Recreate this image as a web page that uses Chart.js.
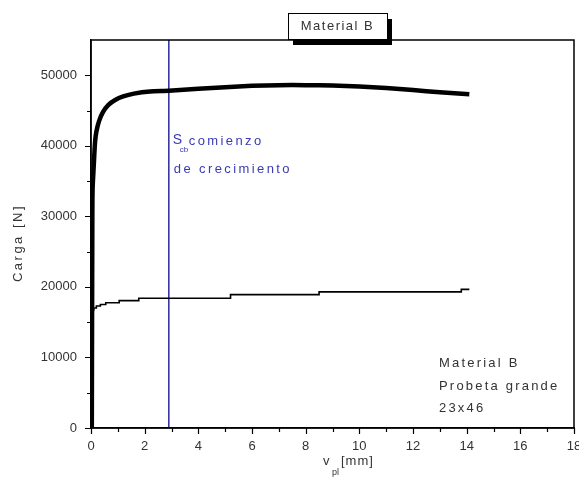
<!DOCTYPE html>
<html>
<head>
<meta charset="utf-8">
<script src="https://cdn.jsdelivr.net/npm/chart.js@4/dist/chart.umd.min.js"></script>
<style>
  html, body { margin: 0; padding: 0; background: #fff; }
  #wrap { position: relative; width: 579px; height: 488px; }
</style>
</head>
<body>
<div id="wrap"><canvas id="chart"></canvas></div>
<script>
// ── Data ─────────────────────────────────────────────
// upper curve: load vs plastic displacement (thick)
const upperX = [0.03, 0.05, 0.06, 0.1, 0.15, 0.2, 0.3, 0.45, 0.65, 0.9, 1.2, 1.6, 2.2, 2.9,
  4, 5, 6, 7, 8, 9, 10, 11, 12, 13, 14.1];
const upperY = [0, 30000, 34000, 37000, 40500, 42000, 43500, 44800, 45800, 46500, 47000, 47400, 47700, 47800,
  48100, 48300, 48500, 48600, 48600, 48550, 48400, 48200, 47900, 47600, 47300];

// lower curve (thin, stepped)
const lowerX = [0.03, 0.05, 0.1, 0.2, 0.35, 0.55, 1.05, 1.78, 5.2, 8.5, 13.8, 14.1];
const lowerY = [0, 16700, 17000, 17300, 17500, 17750, 18050, 18400, 18900, 19300, 19650, 19650];

// onset of crack growth
const growthX = 2.9;

const xTicks = [0, 2, 4, 6, 8, 10, 12, 14, 16, 18];
const yTicks = [0, 10000, 20000, 30000, 40000, 50000];

const FONT = "'Liberation Sans', Arial, sans-serif";
const TXT = '#333';
const BLUE = '#3a3ab4';

const toPoints = (xs, ys) => xs.map((x, i) => ({ x, y: ys[i] }));

// ── Frame, minor ticks, labels and boxes ─────────────
const decorations = {
  id: 'decorations',
  afterDraw(chart) {
    const { ctx, chartArea: a, scales: { x, y } } = chart;
    ctx.save();

    // frame (top + right sides)
    ctx.strokeStyle = '#000';
    ctx.lineWidth = 1.5;
    ctx.strokeRect(a.left, a.top, a.right - a.left, a.bottom - a.top);

    // tick marks, major every label, minor in between
    ctx.lineWidth = 1.2;
    ctx.beginPath();
    for (let v = 0; v <= 18; v++) {
      const px = Math.round(x.getPixelForValue(v)) + 0.5;
      const len = v % 2 === 0 ? 6 : 4;
      ctx.moveTo(px, a.bottom);
      ctx.lineTo(px, a.bottom + len);
    }
    for (let v = 0; v <= 50000; v += 5000) {
      const py = Math.round(y.getPixelForValue(v)) + 0.5;
      const len = v % 10000 === 0 ? 6 : 4;
      ctx.moveTo(a.left, py);
      ctx.lineTo(a.left - len, py);
    }
    ctx.stroke();

    // title box with drop shadow
    const bx = 288, by = 13, bw = 99, bh = 26;
    ctx.fillStyle = '#000';
    ctx.fillRect(bx + 5, by + 6, bw, bh);
    ctx.fillStyle = '#fff';
    ctx.fillRect(bx, by, bw, bh);
    ctx.lineWidth = 1;
    ctx.strokeRect(bx + 0.5, by + 0.5, bw, bh);
    ctx.fillStyle = TXT;
    ctx.font = `13px ${FONT}`;
    ctx.letterSpacing = '1.5px';
    ctx.textAlign = 'center';
    ctx.textBaseline = 'middle';
    ctx.fillText('Material B', bx + bw / 2, by + bh / 2);

    // axis titles
    ctx.textAlign = 'left';
    ctx.letterSpacing = '2.5px';
    ctx.save();
    ctx.translate(18, 243);
    ctx.rotate(-Math.PI / 2);
    ctx.textAlign = 'center';
    ctx.fillText('Carga [N]', 0, 0);
    ctx.restore();

    ctx.letterSpacing = '1px';
    ctx.fillText('v', 323, 461);
    ctx.font = `9px ${FONT}`;
    ctx.letterSpacing = '0px';
    ctx.fillText('pl', 332, 473);
    ctx.font = `13px ${FONT}`;
    ctx.letterSpacing = '1px';
    ctx.fillText('[mm]', 341, 461);

    // crack growth annotation
    const gx = x.getPixelForValue(growthX);
    ctx.fillStyle = BLUE;
    ctx.letterSpacing = '0px';
    ctx.font = `14px ${FONT}`;
    ctx.fillText('S', gx + 4, 140);
    ctx.font = `8px ${FONT}`;
    ctx.fillText('cb', gx + 11, 150);
    ctx.font = `13px ${FONT}`;
    ctx.letterSpacing = '2.4px';
    ctx.fillText('comienzo', gx + 20, 141);
    ctx.fillText('de crecimiento', gx + 5, 169);

    // specimen note
    ctx.fillStyle = TXT;
    ctx.letterSpacing = '2.2px';
    ctx.fillText('Material B', 439, 363);
    ctx.fillText('Probeta grande', 439, 386);
    ctx.fillText('23x46', 439, 408);

    ctx.restore();
  },
};

new Chart(document.getElementById('chart'), {
  type: 'line',
  data: {
    datasets: [
      {
        label: 'Material B',
        data: toPoints(upperX, upperY),
        borderColor: '#000',
        borderWidth: 4.5,
        pointRadius: 0,
        tension: 0.2,
        fill: false,
      },
      {
        label: 'Probeta grande',
        data: toPoints(lowerX, lowerY),
        borderColor: '#000',
        borderWidth: 1.6,
        pointRadius: 0,
        stepped: 'before',
        fill: false,
      },
      {
        label: 'Scb',
        data: [{ x: growthX, y: 0 }, { x: growthX, y: 55000 }],
        borderColor: '#2a2a9c',
        borderWidth: 1.5,
        pointRadius: 0,
        fill: false,
      },
    ],
  },
  options: {
    responsive: true,
    maintainAspectRatio: false,
    animation: false,
    layout: { padding: { left: 0, right: 5, top: 40, bottom: 0 } },
    plugins: { legend: { display: false }, tooltip: { enabled: false } },
    scales: {
      x: {
        type: 'linear',
        min: 0,
        max: 18,
        afterBuildTicks(s) { s.ticks = xTicks.map(value => ({ value })); },
        afterFit(s) { s.height = 60; s.paddingLeft = 0; s.paddingRight = 0; },
        grid: { display: true, drawOnChartArea: false, drawTicks: false },
        border: { color: '#000', width: 1.5 },
        ticks: {
          color: TXT, font: { family: FONT, size: 13 }, padding: 11,
          maxRotation: 0, autoSkip: false, callback: v => String(v),
        },
      },
      y: {
        type: 'linear',
        min: 0,
        max: 55000,
        afterBuildTicks(s) { s.ticks = yTicks.map(value => ({ value })); },
        afterFit(s) { s.width = 91; s.paddingTop = 0; s.paddingBottom = 0; },
        grid: { display: true, drawOnChartArea: false, drawTicks: false },
        border: { color: '#000', width: 1.5 },
        ticks: {
          color: TXT, font: { family: FONT, size: 13 }, padding: 14,
          autoSkip: false, callback: v => String(v),
        },
      },
    },
  },
  plugins: [decorations],
});
</script>
</body>
</html>
